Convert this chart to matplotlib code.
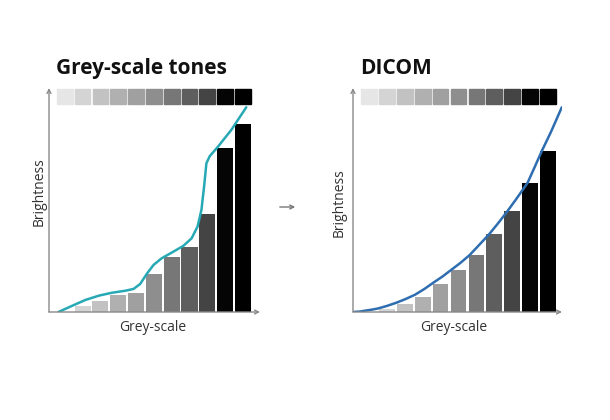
import matplotlib.pyplot as plt
from matplotlib.patches import FancyArrowPatch

plt.rcParams['font.family'] = ['Open Sans', 'DejaVu Sans']

slots = list(range(11))
tones = ['#e6e6e6', '#d4d4d4', '#c2c2c2', '#b0b0b0', '#a0a0a0', '#8e8e8e',
         '#777777', '#5e5e5e', '#444444', '#050505', '#000000']

# left panel: measured brightness (percent of axis height)
grey_bars = [0, 2.7, 5.1, 7.4, 8.3, 17.0, 24.7, 28.9, 43.6, 73.1, 83.8]
grey_curve_x = [-0.36, 0.42, 1.16, 1.91, 2.65, 3.40, 3.86, 4.23, 4.60, 4.98, 5.44,
                6.0, 6.65, 7.12, 7.45, 7.67, 7.82, 7.95, 8.14, 8.60, 9.35, 10.19]
grey_curve_y = [0, 2.8, 5.4, 7.3, 8.6, 9.5, 10.3, 12.5, 17.0, 21.0, 24.0,
                26.5, 29.5, 32.9, 38.1, 45.5, 56.0, 66.4, 69.6, 73.8, 81.3, 91.4]

# right panel: DICOM
dicom_bars = [0, 1.2, 3.6, 6.8, 12.4, 18.8, 25.4, 34.8, 45.2, 57.7, 72.0]
dicom_curve_x = [-0.88, -0.5, -0.13, 0.2, 0.52, 1.0, 1.55, 2.05, 2.57, 3.08, 3.58,
                 4.1, 4.61, 5.12, 5.62, 6.15, 6.70, 7.17, 7.64, 8.25, 8.86,
                 9.26, 9.66, 10.17, 10.77]
dicom_curve_y = [0, 0.2, 0.7, 1.1, 1.6, 2.7, 4.2, 5.8, 7.7, 10.2, 13.0,
                 15.8, 18.9, 22.0, 25.4, 29.9, 34.6, 39.2, 44.0, 50.7, 57.7,
                 64.8, 72.0, 80.5, 91.4]


def draw_panel(ax, bars, cx, cy, line_color, title, xlim, width, ylab_pos, xlab_x):
    for s, h, c in zip(slots, bars, tones):
        if h > 0:
            ax.bar(s, h, width=width, color=c, align='center')
        ax.add_patch(plt.Rectangle((s - 0.44, 93), 0.88, 6.6, color=c, clip_on=False))
    ax.plot(cx, cy, color=line_color, lw=1.8, solid_capstyle='round')
    ax.set_xlim(*xlim)
    ax.set_ylim(0, 100)
    for sp in ax.spines.values():
        sp.set_visible(False)
    ax.set_xticks([])
    ax.set_yticks([])
    arrow = dict(arrowstyle='->', color='#888888', lw=1, shrinkA=0, shrinkB=0,
                 mutation_scale=7)
    ax.annotate('', xy=(1, 0), xytext=(0, 0), xycoords='axes fraction', arrowprops=arrow)
    ax.annotate('', xy=(0, 1), xytext=(0, 0), xycoords='axes fraction', arrowprops=arrow)
    ax.text(xlab_x, -0.067, 'Grey-scale', fontsize=10, color='#333333',
            ha='center', va='center', transform=ax.transAxes)
    ax.text(ylab_pos[0], ylab_pos[1], 'Brightness', fontsize=10, color='#333333',
            rotation=90, ha='center', va='center', transform=ax.transAxes)
    ax.text(-0.5, 104, title, fontsize=15, fontweight='bold', ha='left',
            va='bottom', color='#111111')


fig = plt.figure(figsize=(6.1, 4.2), dpi=100)
ax1 = fig.add_axes([49 / 610, 108 / 420, 211 / 610, 224 / 420])
ax2 = fig.add_axes([353 / 610, 108 / 420, 209 / 610, 224 / 420])

draw_panel(ax1, grey_bars, grey_curve_x, grey_curve_y, '#27a9b5',
           'Grey-scale tones', (-0.89, 10.96), 0.9, (-10 / 211, 0.536), 0.493)
draw_panel(ax2, dicom_bars, dicom_curve_x, dicom_curve_y, '#2e6eb0',
           'DICOM', (-0.89, 10.78), 0.88, (-14 / 209, 0.49), 0.48)

fig.patches.append(FancyArrowPatch(
    (277 / 610, 213 / 420), (298 / 610, 213 / 420), transform=fig.transFigure,
    arrowstyle='->', color='#777777', lw=1, mutation_scale=7))

fig.savefig('out.png', dpi=100)
